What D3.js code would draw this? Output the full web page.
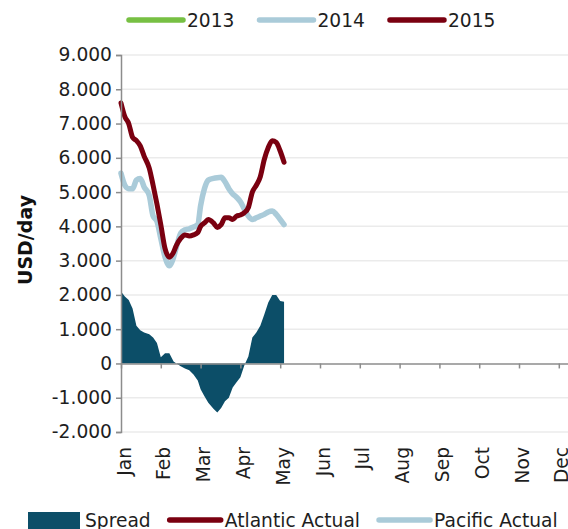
<!DOCTYPE html>
<html>
<head>
<meta charset="utf-8">
<script src="https://cdn.jsdelivr.net/npm/d3@7"></script>
<style>
  html, body { margin: 0; padding: 0; background: #fff; }
  svg { display: block; font-family: "DejaVu Sans", Verdana, sans-serif; }
</style>
</head>
<body>
<svg id="chart" width="568" height="529"></svg>
<script>
// Daily freight rates, USD/day, sampled every few days through early May 2015
const dates = [
  "2015-01-01","2015-01-04","2015-01-07","2015-01-10","2015-01-13","2015-01-16",
  "2015-01-19","2015-01-23","2015-01-26","2015-01-29","2015-02-01","2015-02-04",
  "2015-02-07","2015-02-10","2015-02-12","2015-02-15","2015-02-18","2015-02-21",
  "2015-02-24","2015-02-27","2015-03-01","2015-03-04","2015-03-07","2015-03-11",
  "2015-03-14","2015-03-17","2015-03-20","2015-03-23","2015-03-26","2015-03-29",
  "2015-04-01","2015-04-04","2015-04-07","2015-04-10","2015-04-13","2015-04-16",
  "2015-04-19","2015-04-22","2015-04-25","2015-04-28","2015-05-01","2015-05-04"
];
const atlantic = [
  7600, 7200, 7000, 6600, 6500, 6350, 6050, 5700, 5200, 4650, 4050, 3350,
  3100, 3250, 3450, 3650, 3750, 3720, 3750, 3820, 4000, 4100, 4200, 4100,
  3970, 4050, 4250, 4250, 4200, 4300, 4330, 4400, 4550, 5000, 5200, 5450,
  5950, 6300, 6500, 6450, 6200, 5870
];
const pacific = [
  5550, 5200, 5100, 5100, 5350, 5400, 5150, 4900, 4300, 4150, 3650, 3100,
  2850, 3100, 3400, 3800, 3900, 3930, 3980, 4050, 4600, 5100, 5350, 5400,
  5420, 5430, 5300, 5100, 4950, 4850, 4720, 4500, 4300, 4200, 4250, 4300,
  4350, 4420, 4450, 4350, 4200, 4050
];
const spread = [
  2100, 1950, 1850, 1600, 1100, 970, 900, 850, 760, 600, 180, 300,
  300, 60, 0, -80, -150, -200, -320, -500, -750, -960, -1150, -1320,
  -1430, -1300, -1100, -1000, -700, -550, -400, -50, 200, 760, 900, 1100,
  1430, 1780, 2000, 2000, 1820, 1800
];
const yTicks = [-2000, -1000, 0, 1000, 2000, 3000, 4000, 5000, 6000, 7000, 8000, 9000];
const topLegend = ["2013", "2014", "2015"];
const bottomLegend = ["Spread", "Atlantic Actual", "Pacific Actual"];
const yTitle = "USD/day";

const colors = {
  y2013: "#77c043",
  pacific: "#aacbd9",
  atlantic: "#7a0010",
  spread: "#0c4e68",
  grid: "#ebebeb",
  axis: "#8c8c8c",
  text: "#1e1e1e"
};
const fontSize = 18.67;

const svg = d3.select("#chart");
const parse = d3.utcParse("%Y-%m-%d");
const rows = dates.map((d, i) => ({
  date: parse(d), atlantic: atlantic[i], pacific: pacific[i], spread: spread[i]
}));

// Month-based date axis: every month gets the same width
const plotLeft = 121;
const monthWidth = 39.8;
const monthStarts = d3.utcMonths(parse("2015-01-01"), parse("2016-01-02"));
const x = d3.scaleUtc()
  .domain(monthStarts)
  .range(monthStarts.map((_, i) => plotLeft + i * monthWidth));
const y = d3.scaleLinear().domain([-2000, 9000]).range([432, 55]);
const xRight = x.range()[x.range().length - 1];

const locale = d3.formatLocale({ decimal: ",", thousands: ".", grouping: [3], currency: ["", ""], minus: "-" });
const fmt = locale.format(",.0f");

// Horizontal gridlines
svg.append("g")
  .selectAll("line")
  .data(yTicks.filter(v => v !== 0))
  .join("line")
  .attr("x1", plotLeft).attr("x2", xRight)
  .attr("y1", d => y(d)).attr("y2", d => y(d))
  .attr("stroke", colors.grid).attr("stroke-width", 1.5);

// Spread area (Atlantic minus Pacific)
svg.append("path")
  .datum(rows)
  .attr("fill", colors.spread)
  .attr("d", d3.area().x(d => x(d.date)).y0(y(0)).y1(d => y(d.spread)));

// Zero axis with monthly ticks
const monthTicks = monthStarts.slice(0, 12);
const xAxis = d3.axisBottom(x)
  .tickValues(monthTicks)
  .tickSize(5)
  .tickSizeOuter(0)
  .tickFormat("");
const gx = svg.append("g").attr("transform", `translate(0,${y(0)})`).call(xAxis);
gx.select(".domain").attr("stroke", colors.axis).attr("stroke-width", 1.5);
gx.selectAll(".tick line").attr("stroke", colors.axis).attr("stroke-width", 1.5);

// Month labels along the bottom of the plot
svg.append("g")
  .selectAll("text")
  .data(monthTicks)
  .join("text")
  .attr("transform", d => `translate(${x(d) + 3},447) rotate(-90)`)
  .attr("text-anchor", "end")
  .attr("dy", "0.35em")
  .attr("font-size", fontSize)
  .attr("fill", colors.text)
  .text(d3.utcFormat("%b"));

// Lines
const line = key => d3.line().x(d => x(d.date)).y(d => y(d[key])).curve(d3.curveMonotoneX);
svg.append("path").datum(rows)
  .attr("fill", "none").attr("stroke", colors.pacific).attr("stroke-width", 5.5)
  .attr("stroke-linejoin", "round").attr("stroke-linecap", "round")
  .attr("d", line("pacific"));
svg.append("path").datum(rows)
  .attr("fill", "none").attr("stroke", colors.atlantic).attr("stroke-width", 5)
  .attr("stroke-linejoin", "round").attr("stroke-linecap", "round")
  .attr("d", line("atlantic"));

// Y axis
const yAxis = d3.axisLeft(y).tickValues(yTicks).tickSize(5).tickPadding(4).tickFormat(fmt);
const gy = svg.append("g").attr("transform", `translate(${plotLeft},0)`).call(yAxis);
gy.select(".domain").attr("stroke", colors.axis).attr("stroke-width", 1.5);
gy.selectAll(".tick line").attr("stroke", colors.axis).attr("stroke-width", 1.5);
gy.selectAll(".tick text")
  .attr("font-size", fontSize)
  .attr("font-family", "DejaVu Sans, Verdana, sans-serif")
  .attr("fill", colors.text);

// Axis title
svg.append("text")
  .attr("transform", "translate(25,240) rotate(-90)")
  .attr("text-anchor", "middle")
  .attr("dy", "0.35em")
  .attr("font-size", 19)
  .attr("font-weight", "bold")
  .attr("fill", "#111")
  .text(yTitle);

// Legends
function legend(items, swatches, startX, cy, textOffset, gap) {
  let cursor = startX;
  items.forEach((label, i) => {
    const sw = swatches[i];
    if (sw.type === "rect") {
      svg.append("rect").attr("x", cursor).attr("y", cy - 8).attr("width", 52).attr("height", 18)
        .attr("fill", sw.color);
    } else {
      svg.append("line").attr("x1", cursor + 2).attr("x2", cursor + textOffset - 4)
        .attr("y1", cy).attr("y2", cy)
        .attr("stroke", sw.color).attr("stroke-width", 5.5).attr("stroke-linecap", "round");
    }
    const t = svg.append("text").attr("x", cursor + textOffset).attr("y", cy).attr("dy", "0.35em")
      .attr("font-size", fontSize).attr("fill", colors.text).text(label);
    cursor += textOffset + t.node().getComputedTextLength() + gap;
  });
}
legend(topLegend, [
  { type: "line", color: colors.y2013 },
  { type: "line", color: colors.pacific },
  { type: "line", color: colors.atlantic }
], 127, 20, 60, 23);
legend(bottomLegend, [
  { type: "rect", color: colors.spread },
  { type: "line", color: colors.atlantic },
  { type: "line", color: colors.pacific }
], 28, 520, 57, 17);
</script>
</body>
</html>
